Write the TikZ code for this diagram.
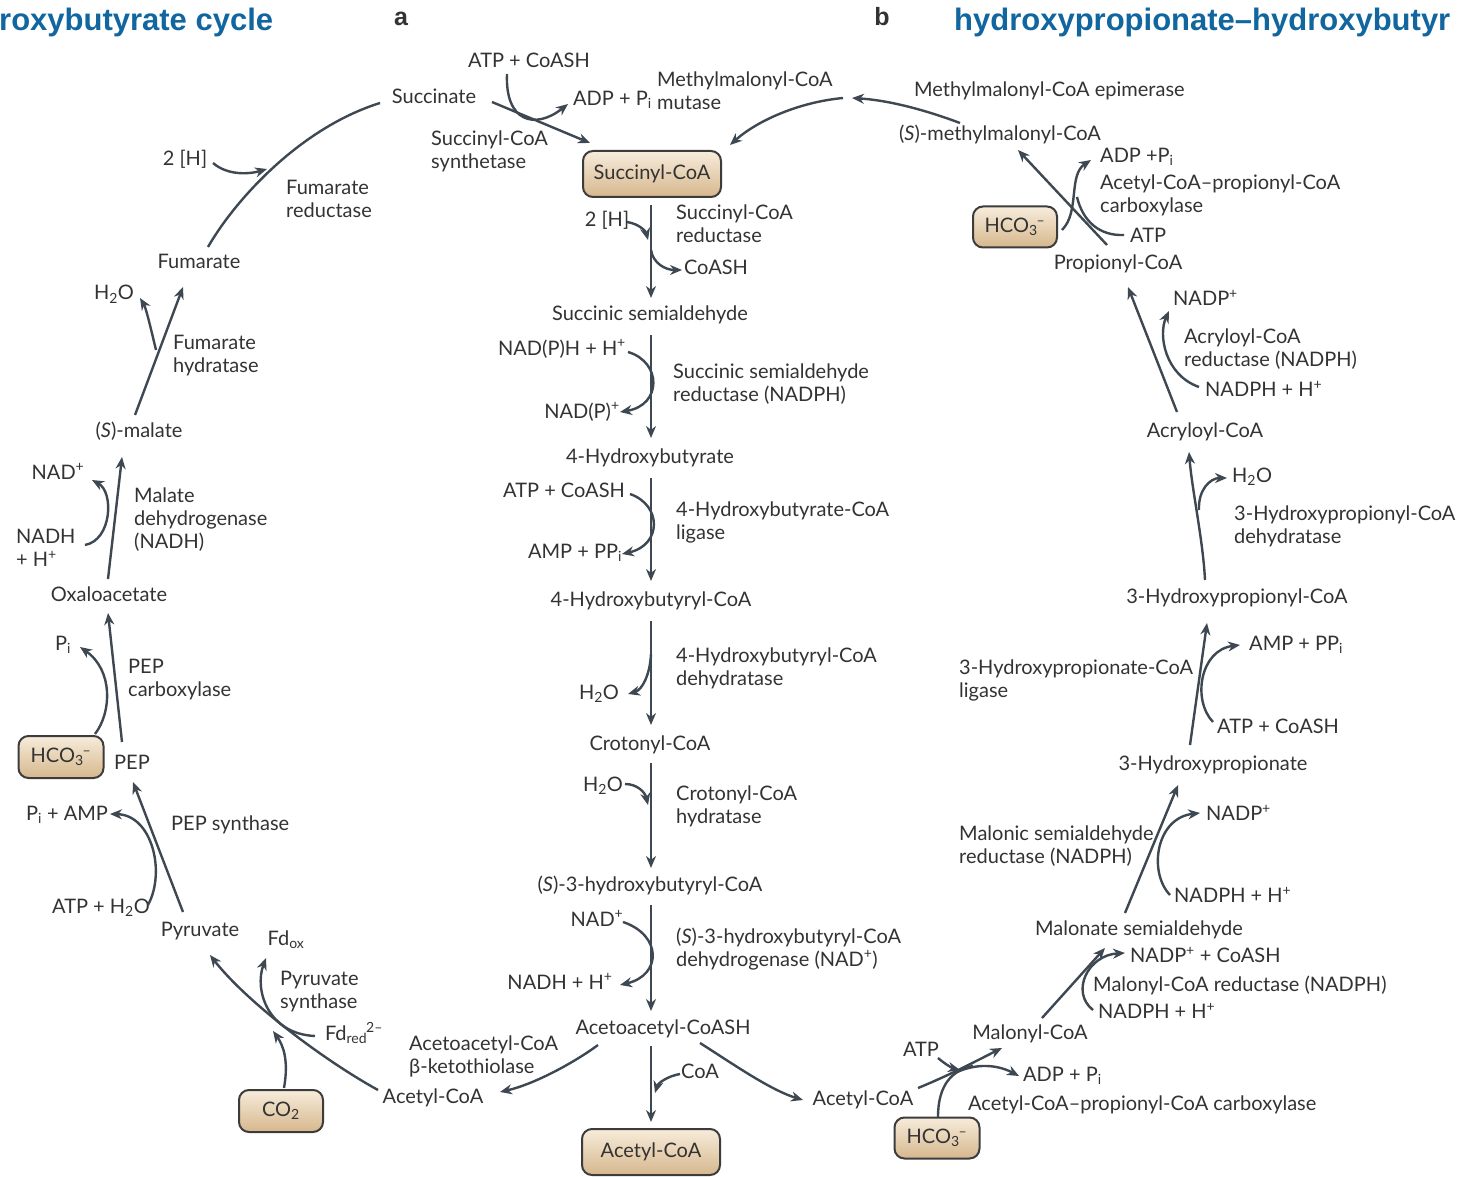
\documentclass[tikz,border=0pt]{standalone}
\usepackage{fontspec}
\setmainfont{Lato}
\newfontfamily\titlefont{Liberation Sans}
\usetikzlibrary{arrows.meta,calc}
\definecolor{txtc}{HTML}{333333}
\definecolor{arrc}{HTML}{3E4852}
\definecolor{boxd}{HTML}{3C3C3C}
\definecolor{boxt}{HTML}{F7ECDB}
\definecolor{boxb}{HTML}{D6B78D}
\definecolor{ttl}{RGB}{18,102,160}
\newcommand\mysub[1]{\textsubscript{#1}}
\newcommand\mysup[1]{\textsuperscript{#1}}
\newcommand\hcoiii{HCO\mysub{3}\kern-1pt\mysup{–}}
\tikzset{
 basefont/.style={font=\fontsize{20}{23}\selectfont, text=txtc, inner sep=1pt},
 sp/.style={basefont, text height=14pt, text depth=4pt},
 lbl/.style={basefont, align=left, anchor=west},
 cbox/.style={basefont, draw=boxd, line width=2pt, rounded corners=10pt, top color=boxt, bottom color=boxb},
 arr/.style={draw=arrc, line width=2.4pt, -{Stealth[length=12pt,width=10pt]}},
 ln/.style={draw=arrc, line width=2.4pt},
 ttlsty/.style={font=\titlefont\bfseries\fontsize{31}{36}\selectfont, text=ttl, inner sep=0pt, anchor=west},
 panel/.style={font=\titlefont\bfseries\fontsize{25}{28}\selectfont, text=txtc, inner sep=0pt},
}
\begin{document}
\begin{tikzpicture}[x=1pt,y=-1pt]
\fill[white] (0,0) rectangle (1460,1177);
\useasboundingbox (0,0) rectangle (1460,1177);

% titles
\node[ttlsty] (t1) at (-1,22) {roxybutyrate cycle};
\node[ttlsty] (t2) at (954,22) {hydroxypropionate–hydroxybutyr};
\node[panel] (la) at (401,19) {a};
\node[panel] (lb) at (882,17) {b};

% boxes
\node[cbox, minimum width=138pt, minimum height=46pt] (scoa) at (652,174) {Succinyl-CoA};
\node[cbox, minimum width=138pt, minimum height=46pt] (acbox) at (651,1152) {Acetyl-CoA};
\node[cbox, minimum width=85pt, minimum height=42pt] (hcoL) at (61,757) {\hcoiii};
\node[cbox, minimum width=84pt, minimum height=42pt] (co2) at (281,1111) {CO\mysub{2}};
\node[cbox, minimum width=85pt, minimum height=41pt] (hcoR1) at (937,1138) {\hcoiii};
\node[cbox, minimum width=84pt, minimum height=41pt] (hcoR2) at (1015,227) {\hcoiii};

% central column
\node[sp] (ssa) at (650,315) {Succinic semialdehyde};
\node[sp] (hb) at (650,458) {4-Hydroxybutyrate};
\node[sp] (hbcoa) at (651,601) {4-Hydroxybutyryl-CoA};
\node[sp] (croc) at (650,745) {Crotonyl-CoA};
\node[sp] (shb) at (650,886) {(\textit{S})-3-hydroxybutyryl-CoA};
\node[sp] (aacoa) at (663,1029) {Acetoacetyl-CoASH};
\node[sp] (acL) at (433,1098) {Acetyl-CoA};
\node[sp] (acR) at (863,1100) {Acetyl-CoA};

% top
\node[sp] (succ) at (434,99) {Succinate};
\node[sp] (atp1) at (529,63) {ATP + CoASH};
\node[lbl] (adp1) at (572,100) {ADP + P\mysub{i}};
\node[lbl] (mmut) at (656,91) {Methylmalonyl-CoA\\mutase};
\node[lbl] (sscs) at (430,151) {Succinyl-CoA\\synthetase};
\node[lbl] (mepi) at (913,91) {Methylmalonyl-CoA epimerase};
\node[sp] (smm) at (1000,136) {(\textit{S})-methylmalonyl-CoA};

% central side species and enzymes
\node[sp] (h2a) at (607,222) {2 [H]};
\node[sp] (coash1) at (716,270) {CoASH};
\node[lbl] (scr) at (675,224) {Succinyl-CoA\\reductase};
\node[sp] (nadph1) at (562,350) {NAD(P)H + H\mysup{+}};
\node[sp] (nadp1) at (582,413) {NAD(P)\mysup{+}};
\node[lbl] (ssr) at (672,384) {Succinic semialdehyde\\reductase (NADPH)};
\node[sp] (atp2) at (564,492) {ATP + CoASH};
\node[sp] (amp2) at (575,553) {AMP + PP\mysub{i}};
\node[lbl] (hbl) at (675,522) {4-Hydroxybutyrate-CoA\\ligase};
\node[sp] (h2o2) at (599,694) {H\mysub{2}O};
\node[lbl] (hbd) at (675,668) {4-Hydroxybutyryl-CoA\\dehydratase};
\node[sp] (h2o3) at (603,786) {H\mysub{2}O};
\node[lbl] (crh) at (675,806) {Crotonyl-CoA\\hydratase};
\node[sp] (nad3) at (597,921) {NAD\mysup{+}};
\node[sp] (nadh3) at (560,984) {NADH + H\mysup{+}};
\node[lbl] (shd) at (675,949) {(\textit{S})-3-hydroxybutyryl-CoA\\dehydrogenase (NAD\mysup{+})};
\node[sp] (coa4) at (700,1073) {CoA};
\node[lbl] (akt) at (408,1056) {Acetoacetyl-CoA\\β-ketothiolase};

% left cycle
\node[sp] (pyr) at (200,931) {Pyruvate};
\node[sp] (fdox) at (286,940) {Fd\mysub{ox}};
\node[lbl] (pys) at (279,992) {Pyruvate\\synthase};
\node[sp] (fdred) at (354,1035) {Fd\mysub{red}\kern-1pt\mysup{2–}};
\node[sp] (atph2o) at (101,908) {ATP + H\mysub{2}O};
\node[sp] (piamp) at (67,815) {P\mysub{i} + AMP};
\node[lbl] (peps) at (170,825) {PEP synthase};
\node[sp] (pep) at (132,764) {PEP};
\node[sp] (pi5) at (63,645) {P\mysub{i}};
\node[lbl] (pepc) at (127,680) {PEP\\carboxylase};
\node[sp] (oaa) at (109,596) {Oxaloacetate};
\node[lbl] (nadh6) at (15,548) {NADH\\+ H\mysup{+}};
\node[sp] (nad6) at (58,474) {NAD\mysup{+}};
\node[lbl] (mdh) at (133,520) {Malate\\dehydrogenase\\(NADH)};
\node[sp] (mal) at (139,432) {(\textit{S})-malate};
\node[sp] (h2o7) at (114,295) {H\mysub{2}O};
\node[lbl] (fhy) at (172,356) {Fumarate\\hydratase};
\node[sp] (fum) at (199,264) {Fumarate};
\node[sp] (h2b) at (185,161) {2 [H]};
\node[lbl] (fred) at (285,199) {Fumarate\\reductase};

% right cycle
\node[sp] (atpR) at (921,1051) {ATP};
\node[lbl] (adpR) at (1022,1076) {ADP + P\mysub{i}};
\node[lbl] (accR) at (967,1105) {Acetyl-CoA–propionyl-CoA carboxylase};
\node[sp] (malc) at (1030,1034) {Malonyl-CoA};
\node[lbl] (nadphR1) at (1097,1011) {NADPH + H\mysup{+}};
\node[lbl] (nadpR1) at (1129,955) {NADP\mysup{+} + CoASH};
\node[lbl] (mcr) at (1092,985) {Malonyl-CoA reductase (NADPH)};
\node[sp] (msa) at (1139,930) {Malonate semialdehyde};
\node[lbl] (nadphR2) at (1173,895) {NADPH + H\mysup{+}};
\node[lbl] (nadpR2) at (1205,813) {NADP\mysup{+}};
\node[lbl] (msr) at (958,846) {Malonic semialdehyde\\reductase (NADPH)};
\node[sp] (hp) at (1213,765) {3-Hydroxypropionate};
\node[lbl] (atpR3) at (1216,726) {ATP + CoASH};
\node[lbl] (ampR3) at (1248,645) {AMP + PP\mysub{i}};
\node[lbl] (hpl) at (958,680) {3-Hydroxypropionate-CoA\\ligase};
\node[sp] (hpcoa) at (1237,598) {3-Hydroxypropionyl-CoA};
\node[lbl] (h2oR) at (1231,477) {H\mysub{2}O};
\node[lbl] (hpd) at (1233,526) {3-Hydroxypropionyl-CoA\\dehydratase};
\node[sp] (acry) at (1205,432) {Acryloyl-CoA};
\node[lbl] (nadphR5) at (1204,389) {NADPH + H\mysup{+}};
\node[lbl] (nadpR5) at (1172,298) {NADP\mysup{+}};
\node[lbl] (acr) at (1183,349) {Acryloyl-CoA\\reductase (NADPH)};
\node[sp] (prop) at (1118,265) {Propionyl-CoA};
\node[lbl] (atpR6) at (1129,235) {ATP};
\node[lbl] (adpR6) at (1099,157) {ADP +P\mysub{i}};
\node[lbl] (accR2) at (1099,195) {Acetyl-CoA–propionyl-CoA\\carboxylase};

% ---------- connectors: top ----------
\draw[arr] ($(succ)+(58,3)$) -- ($(scoa)+(-62,-31)$);
\draw[arr] ($(atp1)+(-22,11)$) .. controls (505,122) and (535,130) .. ($(adp1.west)+(-4,4)$);
\draw[arr] ($(smm)+(-40,-13)$) .. controls (920,108) and (885,100) .. ($(mepi.west)+(-61,7)$);
\draw[arr] ($(mepi.west)+(-70,7)$) .. controls (800,102) and (758,120) .. ($(scoa)+(78,-29)$);

% ---------- central column ----------
\draw[arr] ($(scoa)+(-1,31)$) -- ($(ssa)+(1,-17)$);
\draw[arr] ($(h2a)+(20,0)$) .. controls (640,224) and (646,232) .. ($(h2a)+(41,18)$);
\draw[arr] ($(coash1)+(-65,-20)$) .. controls (653,263) and (665,270) .. ($(coash1)+(-34,0)$);

\draw[arr] ($(ssa)+(1,20)$) -- ($(hb)+(1,-20)$);
\draw[arr] ($(nadph1)+(66,2)$) .. controls (662,362) and (662,405) .. ($(nadp1)+(38,-1)$);

\draw[arr] ($(hb)+(1,20)$) -- ($(hbcoa)+(0,-20)$);
\draw[arr] ($(atp2)+(66,2)$) .. controls (662,505) and (662,545) .. ($(amp2)+(47,1)$);

\draw[arr] ($(hbcoa)+(0,20)$) -- ($(croc)+(1,-20)$);
\draw[arr] ($(h2o2)+(52,-40)$) .. controls (650,675) and (642,690) .. ($(h2o2)+(29,0)$);

\draw[arr] ($(croc)+(1,18)$) -- ($(shb)+(1,-18)$);
\draw[arr] ($(h2o3)+(22,-2)$) .. controls (637,784) and (645,792) .. ($(h2o3)+(45,19)$);

\draw[arr] ($(shb)+(1,19)$) -- ($(aacoa)+(-12,-18)$);
\draw[arr] ($(nad3)+(26,1)$) .. controls (662,935) and (662,975) .. ($(nadh3)+(60,1)$);

\draw[arr] ($(aacoa)+(-12,17)$) -- ($(acbox)+(0,-30)$);
\draw[arr] ($(coa4)+(-20,1)$) .. controls (668,1076) and (658,1083) .. ($(coa4)+(-45,20)$);
\draw[arr] ($(aacoa)+(-65,16)$) .. controls (575,1062) and (535,1084) .. ($(acL)+(67,-6)$);
\draw[arr] ($(aacoa)+(37,14)$) .. controls (730,1062) and (770,1090) .. ($(acR)+(-60,0)$);

% ---------- left cycle ----------
\draw[arr] ($(acL)+(-55,-8)$) .. controls (320,1058) and (245,1000) .. ($(pyr)+(10,24)$);
\draw[arr] ($(co2)+(3,-23)$) .. controls (289,1060) and (283,1045) .. ($(co2)+(-8,-80)$);
\draw[arr] ($(fdred)+(-39,1)$) .. controls (268,1034) and (254,990) .. ($(fdox)+(-20,18)$);

\draw[arr] ($(pyr)+(-17,-19)$) -- ($(pep)+(1,18)$);
\draw[arr] ($(atph2o)+(47,-3)$) .. controls (166,872) and (152,815) .. ($(piamp)+(43,-1)$);

\draw[arr] ($(pep)+(-10,-22)$) -- ($(oaa)+(-1,17)$);
\draw[arr] ($(hcoL)+(34,-23)$) .. controls (112,712) and (113,670) .. ($(pi5)+(17,2)$);

\draw[arr] ($(oaa)+(-1,-17)$) -- ($(mal)+(-17,25)$);
\draw[arr] ($(nadh6.west)+(70,-3)$) .. controls (112,540) and (114,492) .. ($(nad6)+(34,6)$);

\draw[arr] ($(mal)+(-4,-17)$) -- ($(fum)+(-16,23)$);
\draw[arr] ($(mal)+(17,-82)$) .. controls (150,325) and (146,308) .. ($(h2o7)+(26,3)$);

\draw[ln] ($(fum)+(9,-17)$) .. controls (235,200) and (300,128) .. ($(succ)+(-54,4)$);
\draw[arr] ($(h2b)+(28,2)$) .. controls (228,176) and (250,174) .. ($(h2b)+(82,8)$);

% ---------- right cycle ----------
\draw[arr] ($(acR)+(55,-12)$) .. controls (950,1075) and (978,1060) .. ($(malc)+(-28,14)$);
\draw[arr] ($(atpR)+(17,7)$) .. controls (945,1064) and (952,1068) .. ($(atpR)+(39,19)$);
\draw[arr] ($(adpR.west)+(-65,-4)$) .. controls (980,1062) and (1000,1066) .. ($(adpR.west)+(-3,0)$);
\draw[ln] ($(hcoR1)+(1,-21)$) .. controls (938,1085) and (952,1070) .. ($(hcoR1)+(36,-72)$);

\draw[arr] ($(malc)+(12,-16)$) -- ($(msa)+(-34,18)$);
\draw[arr] ($(nadphR1.west)+(-4,-1)$) .. controls (1070,992) and (1088,955) .. ($(nadpR1.west)+(-4,-2)$);

\draw[arr] ($(msa)+(-14,-17)$) -- ($(hp)+(-35,20)$);
\draw[arr] ($(nadphR2.west)+(-3,0)$) .. controls (1148,872) and (1156,818) .. ($(nadpR2.west)+(-5,0)$);

\draw[arr] ($(hp)+(-23,-20)$) -- ($(hpcoa)+(-30,25)$);
\draw[arr] ($(atpR3.west)+(-3,-4)$) .. controls (1192,700) and (1200,650) .. ($(ampR3.west)+(-8,0)$);

\draw[arr] ($(hpcoa)+(-32,-18)$) .. controls (1203,540) and (1192,490) .. ($(acry)+(-16,20)$);
\draw[arr] ($(h2oR.west)+(-32,33)$) .. controls (1198,490) and (1210,478) .. ($(h2oR.west)+(-4,1)$);

\draw[arr] ($(acry)+(-28,-20)$) -- ($(prop)+(10,22)$);
\draw[arr] ($(nadphR5.west)+(-5,-2)$) .. controls (1165,375) and (1158,335) .. ($(nadpR5.west)+(-3,13)$);

\draw[arr] ($(prop)+(-11,-20)$) -- ($(smm)+(18,14)$);
\draw[arr] ($(hcoR2)+(47,3)$) .. controls (1080,212) and (1068,175) .. ($(adpR6.west)+(-8,3)$);
\draw[ln] ($(atpR6.west)+(-5,0)$) .. controls (1100,236) and (1083,222) .. ($(atpR6.west)+(-52,-38)$);
\end{tikzpicture}
\end{document}
